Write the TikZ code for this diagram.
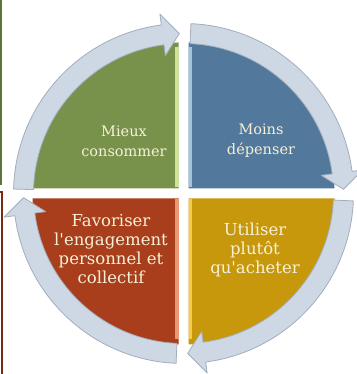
\documentclass[tikz,border=0pt]{standalone}
\usepackage{fontspec}
\setmainfont{DejaVu Serif}
\usepackage{xcolor}
\usetikzlibrary{positioning, calc}

\definecolor{mieuxgreen}{HTML}{78924C}
\definecolor{mieuxlight}{HTML}{CFE19A}
\definecolor{moinsblue}{HTML}{52789B}
\definecolor{moinslight}{HTML}{A3C3DC}
\definecolor{favred}{HTML}{A83E1B}
\definecolor{favlight}{HTML}{EA9874}
\definecolor{utilgold}{HTML}{C8980C}
\definecolor{utillight}{HTML}{F2CC4A}
\definecolor{ringfill}{HTML}{CDD8E4}
\definecolor{ringedge}{HTML}{A2AEBC}
\definecolor{labeltext}{HTML}{F6F1D8}

% one arrow of the ring: start angle, tip angle (clockwise)
\newcommand{\ringarrow}[2]{%
    \pgfmathsetmacro{\headback}{#2+6}%
    \draw[ring] (#1:170) arc[start angle=#1, end angle=\headback, radius=170]
        -- (\headback:181) -- (#2:160) -- (\headback:139) -- (\headback:150)
        arc[start angle=\headback, end angle=#1, radius=150] -- cycle;}

\begin{document}
\begin{tikzpicture}[
        x=1pt, y=1pt,
        ring/.style={
            fill=ringfill,
            draw=ringedge,
            line width=0.8pt,
            line join=round
        },
        quadlabel/.style={
            text=labeltext,
            align=center
        },
        toplabel/.style={
            quadlabel,
            font=\fontsize{14.5}{20}\selectfont
        },
        bottomlabel/.style={
            quadlabel,
            font=\fontsize{16.5}{19}\selectfont
        }
    ]
    \useasboundingbox (0,0) rectangle (356,374);

    % Frame remnants on the left
    \draw[line width=2pt, color=mieuxgreen!80!black] (1,374) -- (1,189);
    \draw[line width=1.2pt, color=favred!70!black] (0,182) -- (2,182) -- (2,0);

    \begin{scope}[shift={(183.5,180.5)}]
        % Quadrants
        \fill[mieuxgreen] (-5,5) -- (-151,5) arc[start angle=180, end angle=90, radius=146] -- cycle;
        \fill[moinsblue] (5,5) -- (5,151) arc[start angle=90, end angle=0, radius=146] -- cycle;
        \fill[utilgold] (5,-5) -- (151,-5) arc[start angle=0, end angle=-90, radius=146] -- cycle;
        \fill[favred] (-5,-5) -- (-5,-151) arc[start angle=-90, end angle=-180, radius=146] -- cycle;

        % Bevelled inner edges
        \fill[mieuxlight] (-8.5,6) rectangle (-5,146);
        \fill[moinslight] (5,6) rectangle (8.5,146);
        \fill[utillight] (5,-6) rectangle (8.5,-146);
        \fill[favlight] (-8.5,-6) rectangle (-5,-146);

        % Ring of arrows
        \ringarrow{178.5}{91.5}
        \ringarrow{87.5}{1.5}
        \ringarrow{-2.5}{-88.5}
        \ringarrow{-92.5}{-178.5}
    \end{scope}

    % Labels
    \node[toplabel] (mieux) at (124,233) {Mieux\\consommer};
    \node[toplabel] (moins) at (261,233) {Moins\\dépenser};
    \node[bottomlabel] (favoriser) at (111,125) {Favoriser\\l\textquotesingle engagement\\personnel et\\collectif};
    \node[bottomlabel] (utiliser) at (255,124) {Utiliser\\plutôt\\qu\textquotesingle acheter};
\end{tikzpicture}
\end{document}
